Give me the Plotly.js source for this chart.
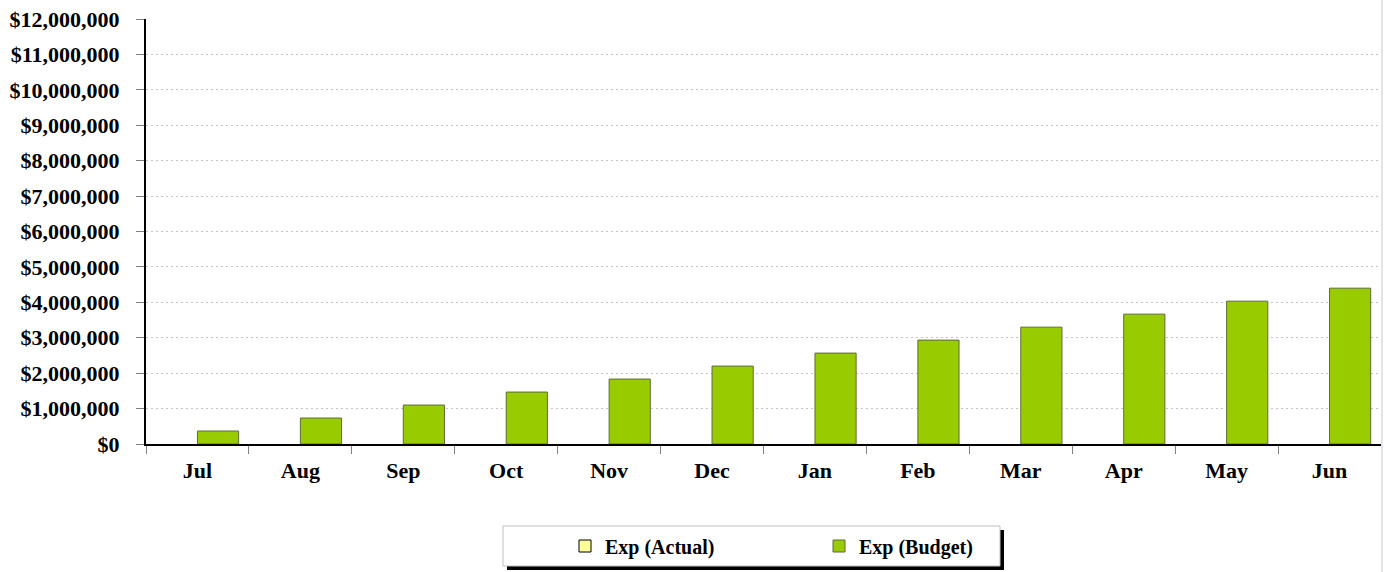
<!DOCTYPE html>
<html>
<head>
<meta charset="utf-8">
<script src="https://cdn.plot.ly/plotly-3.0.1.min.js"></script>
<style>
html,body{margin:0;padding:0;background:#fff;}
#chart{width:1390px;height:572px;}
</style>
</head>
<body>
<div id="chart"></div>
<script>
const months = ["Jul","Aug","Sep","Oct","Nov","Dec","Jan","Feb","Mar","Apr","May","Jun"];
const expActual = [null,null,null,null,null,null,null,null,null,null,null,null];
const expBudget = [366667,733333,1100000,1466667,1833333,2200000,2566667,2933333,3300000,3666667,4033333,4400000];
const yTickVals = [0,1000000,2000000,3000000,4000000,5000000,6000000,7000000,8000000,9000000,10000000,11000000,12000000];
const yTickText = ["$0","$1,000,000","$2,000,000","$3,000,000","$4,000,000","$5,000,000","$6,000,000","$7,000,000","$8,000,000","$9,000,000","$10,000,000","$11,000,000","$12,000,000"];

const FONT = "'Liberation Serif','Times New Roman',serif";

const traces = [
  {
    type: "bar", name: "Exp (Actual)", x: months, y: expActual,
    marker: {color: "#FFFF99", line: {color: "#000000", width: 1}},
    hoverinfo: "skip"
  },
  {
    type: "bar", name: "Exp (Budget)", x: months, y: expBudget,
    marker: {color: "#99CC00", line: {color: "#5E6B3A", width: 1}},
    hoverinfo: "skip"
  }
];

// plot area in pixels: left 146, right 1381, top 19, bottom 444
const W = 1390, H = 572;
const L = 146, R = 9, T = 19, B = 128;
const PW = W - L - R, PH = H - T - B;
function px(x){ return (x - L) / PW; }
function py(y){ return (H - B - y) / PH; }

const layout = {
  width: W, height: H,
  margin: {l: L, r: R, t: T, b: B, pad: 0, autoexpand: false},
  paper_bgcolor: "#ffffff", plot_bgcolor: "#ffffff",
  font: {family: FONT, size: 20, color: "#000"},
  barmode: "group", bargap: 0.2, bargroupgap: 0,
  showlegend: true,
  legend: {
    orientation: "h",
    xref: "container", yref: "container",
    x: 565 / W, xanchor: "left", y: (H - 546) / H, yanchor: "middle",
    bgcolor: "rgba(0,0,0,0)", borderwidth: 0,
    font: {family: FONT, size: 20, color: "#000", weight: "bold"},
    entrywidth: 209, entrywidthmode: "pixels", itemwidth: 30,
    traceorder: "normal"
  },
  xaxis: {
    type: "category", showgrid: false, zeroline: false, automargin: false,
    showline: true, linecolor: "#000", linewidth: 2,
    ticks: "outside", tickson: "boundaries", ticklen: 8, tickcolor: "#808080", tickwidth: 1,
    tickfont: {family: FONT, size: 22, color: "#000", weight: "bold"},
    ticklabelstandoff: 6,
    fixedrange: true
  },
  yaxis: {
    range: [0, 12000000], tickvals: yTickVals, ticktext: yTickText, automargin: false,
    showgrid: true, gridcolor: "#C4C4C4", griddash: "2px,3px", gridwidth: 1,
    zeroline: false, showline: true, linecolor: "#000", linewidth: 2,
    ticks: "outside", ticklen: 8, tickcolor: "#808080", tickwidth: 1,
    tickfont: {family: FONT, size: 22, color: "#000", weight: "bold"},
    ticklabelstandoff: 12,
    fixedrange: true
  },
  shapes: [
    {type: "line", xref: "paper", yref: "paper", x0: px(1382), x1: px(1382), y0: py(0), y1: py(572),
     line: {color: "#E4E4E4", width: 2}, layer: "above"},
    {type: "rect", xref: "paper", yref: "paper", x0: px(507), x1: px(1004), y0: py(530), y1: py(570),
     fillcolor: "#000", line: {width: 0}, layer: "above"},
    {type: "rect", xref: "paper", yref: "paper", x0: px(503), x1: px(1000), y0: py(526), y1: py(566),
     fillcolor: "#fff", line: {color: "#BFBFBF", width: 1}, layer: "above"}
  ]
};

Plotly.newPlot("chart", traces, layout, {displayModeBar: false, staticPlot: true});
</script>
</body>
</html>
